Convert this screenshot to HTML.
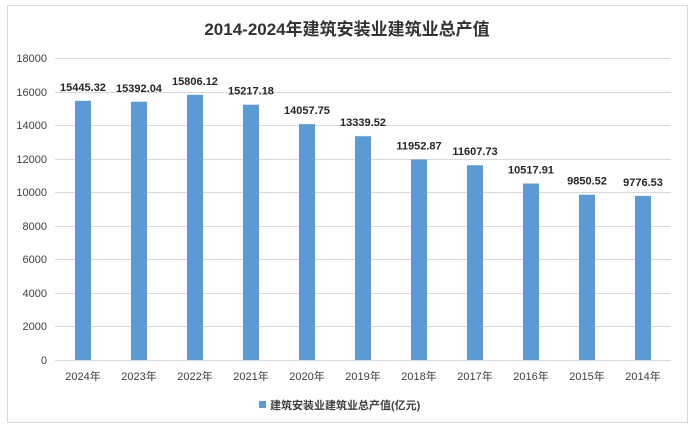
<!DOCTYPE html>
<html><head><meta charset="utf-8"><style>
body{margin:0;background:#fff;}
svg text{font-family:"Liberation Sans","Noto Sans CJK SC",sans-serif;}
</style></head><body>
<svg width="695" height="432" xmlns="http://www.w3.org/2000/svg">
<rect x="0" y="0" width="695" height="432" fill="#fff"/>
<rect x="7.5" y="5.5" width="680" height="417" fill="#fff" stroke="#d9d9d9"/>
<text x="347" y="35" text-anchor="middle" font-size="17" font-weight="bold" fill="#333">2014-2024年建筑安装业建筑业总产值</text>
<g stroke="#d9d9d9" stroke-width="1">
<line x1="55" x2="671" y1="58.5" y2="58.5"/><line x1="55" x2="671" y1="92.5" y2="92.5"/>
<line x1="55" x2="671" y1="125.5" y2="125.5"/><line x1="55" x2="671" y1="159.5" y2="159.5"/>
<line x1="55" x2="671" y1="192.5" y2="192.5"/><line x1="55" x2="671" y1="226.5" y2="226.5"/>
<line x1="55" x2="671" y1="259.5" y2="259.5"/><line x1="55" x2="671" y1="293.5" y2="293.5"/>
<line x1="55" x2="671" y1="326.5" y2="326.5"/><line x1="55" x2="671" y1="360.5" y2="360.5"/>
</g>
<g font-size="11" fill="#404040" text-anchor="end">
<text x="47" y="62">18000</text><text x="47" y="96">16000</text><text x="47" y="129">14000</text>
<text x="47" y="163">12000</text><text x="47" y="196">10000</text><text x="47" y="230">8000</text>
<text x="47" y="263">6000</text><text x="47" y="297">4000</text><text x="47" y="330">2000</text>
<text x="47" y="364">0</text>
</g>
<g fill="#5b9bd5" id="bars"></g>
<g id="lbl" font-size="11" font-weight="bold" fill="#262626" text-anchor="middle"></g>
<g id="cat" font-size="11" fill="#404040" text-anchor="middle"></g>
<rect x="259" y="401" width="7" height="7" fill="#5b9bd5"/>
<text x="270" y="409" font-size="11" font-weight="bold" fill="#404040">建筑安装业建筑业总产值(亿元)</text>
<script>
var v=[15445.32,15392.04,15806.12,15217.18,14057.75,13339.52,11952.87,11607.73,10517.91,9850.52,9776.53];
var y=["2024","2023","2022","2021","2020","2019","2018","2017","2016","2015","2014"];
var ns="http://www.w3.org/2000/svg";
for(var i=0;i<11;i++){var cx=83+56*i;var h=v[i]/18000*302;
var r=document.createElementNS(ns,"rect");r.setAttribute("x",cx-8);r.setAttribute("y",360-h);r.setAttribute("width",16);r.setAttribute("height",h);document.getElementById("bars").appendChild(r);
var t=document.createElementNS(ns,"text");t.setAttribute("x",cx);t.setAttribute("y",360-h-10);t.textContent=v[i].toFixed(2);document.getElementById("lbl").appendChild(t);
var c=document.createElementNS(ns,"text");c.setAttribute("x",cx);c.setAttribute("y",380);c.textContent=y[i]+"年";document.getElementById("cat").appendChild(c);}
</script>
</svg>
</body></html>
